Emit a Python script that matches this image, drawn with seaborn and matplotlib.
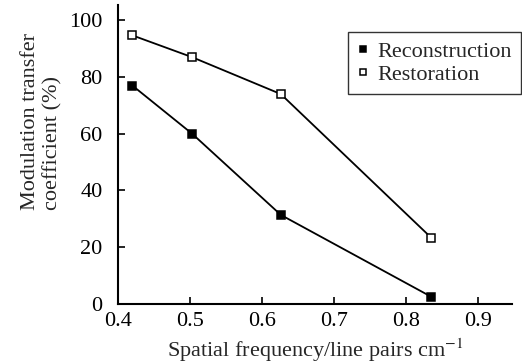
import pandas as pd
import matplotlib.pyplot as plt
import seaborn as sns

# values
freq = [0.42, 0.503, 0.626, 0.835]
reconstruction = [77, 60, 31.4, 2.5]
restoration = [94.7, 87, 74, 23.3]

df = pd.DataFrame({
    'freq': freq * 2,
    'mtf': reconstruction + restoration,
    'method': ['Reconstruction'] * 4 + ['Restoration'] * 4,
})

sns.set_style('ticks')
plt.rcParams['font.family'] = ['Liberation Serif', 'DejaVu Serif']
plt.rcParams['mathtext.fontset'] = 'stix'

fig = plt.figure(figsize=(5.22, 3.64), dpi=100)
ax = fig.add_axes([0.226, 0.165, 0.755, 0.822])

sns.lineplot(data=df[df['method'] == 'Reconstruction'], x='freq', y='mtf', ax=ax,
             color='black', lw=1.3, marker='s', markersize=5.5, markerfacecolor='black',
             markeredgecolor='black', markeredgewidth=1.1, label='Reconstruction')
sns.lineplot(data=df[df['method'] == 'Restoration'], x='freq', y='mtf', ax=ax,
             color='black', lw=1.3, marker='s', markersize=5.5, markerfacecolor='white',
             markeredgecolor='black', markeredgewidth=1.1, label='Restoration')

ax.set_xlim(0.4, 0.947)
ax.set_ylim(0, 105.5)
ax.set_xticks([0.4, 0.5, 0.6, 0.7, 0.8, 0.9])
ax.set_yticks([0, 20, 40, 60, 80, 100])
ax.tick_params(direction='in', length=5, width=1.2, labelsize=16, colors='black')
ax.tick_params(axis='y', pad=11)
ax.tick_params(axis='x', pad=6)
for s in ['left', 'bottom']:
    ax.spines[s].set_linewidth(1.5)
    ax.spines[s].set_color('black')
sns.despine(ax=ax)

ax.set_xlabel('Spatial frequency/line pairs cm$^{-1}$', fontsize=16, labelpad=4)
ax.set_ylabel('Modulation transfer\ncoefficient (%)', fontsize=16, multialignment='left')
ax.yaxis.set_label_coords(-0.14, 0.61)

leg = ax.legend(loc='upper left', bbox_to_anchor=(0.666, 0.912), bbox_transform=fig.transFigure,
                borderaxespad=0, fontsize=16, frameon=True, fancybox=False, edgecolor='black',
                handlelength=0.5, handletextpad=0.4, borderpad=0.42, labelspacing=0.1)
leg.get_frame().set_linewidth(1.0)
for line in leg.get_lines():
    line.set_linestyle('none')
    line.set_markersize(5)

fig.savefig('out.png', dpi=100)
